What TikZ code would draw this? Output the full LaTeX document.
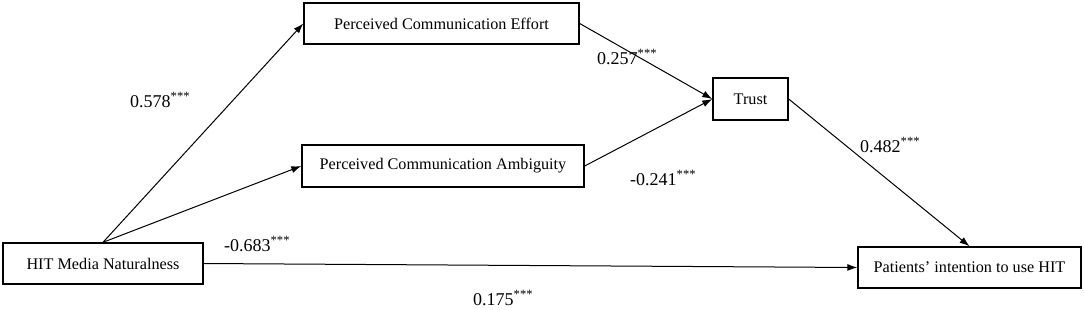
\documentclass[tikz,border=0pt]{standalone}
\usepackage{fontspec}
\setmainfont{Liberation Serif}
\usetikzlibrary{positioning, arrows.meta}

\begin{document}
\begin{tikzpicture}[x=1pt, y=-1pt,
    box/.style={draw, line width=1.4pt, inner sep=0pt, font=\fontsize{16.2}{18}\selectfont},
    path/.style={-{Latex[length=10pt,width=7pt]}, line width=1pt},
    coef/.style={anchor=base west, inner sep=0pt, font=\fontsize{18}{20}\selectfont}]

        \useasboundingbox (0,0) rectangle (1084,309);

        % Boxes
        \node[box, minimum width=200pt, minimum height=41pt] (hit) at (103,263.5) {HIT Media Naturalness};
        \node[box, minimum width=275pt, minimum height=41pt] (effort) at (441.5,23.5) {Perceived Communication Effort};
        \node[box, minimum width=282pt, minimum height=42pt] (ambig) at (443,166) {Perceived Communication Ambiguity};
        \node[box, minimum width=75pt, minimum height=42pt] (trust) at (750.5,99) {Trust};
        \node[box, minimum width=223pt, minimum height=41pt] (intent) at (969.5,267.5) {Patients’ intention to use HIT};

        % Paths
        \draw[path] (hit.north) -- (effort.west);
        \draw[path] (hit.north) -- (ambig.west);
        \draw[path] (effort.east) -- (trust.west);
        \draw[path] (ambig.east) -- (trust.west);
        \draw[path] (trust.east) -- (intent.north);
        \draw[path] (hit.east) -- (intent.west);

        % Coefficients
        \node[coef] (cHitEffort) at (130,107) {0.578\textsuperscript{***}};
        \node[coef] (cHitAmbig) at (224,251) {-0.683\textsuperscript{***}};
        \node[coef] (cEffortTrust) at (597,64) {0.257\textsuperscript{***}};
        \node[coef] (cAmbigTrust) at (630,185) {-0.241\textsuperscript{***}};
        \node[coef] (cTrustIntent) at (860,152) {0.482\textsuperscript{***}};
        \node[coef] (cHitIntent) at (473,305) {0.175\textsuperscript{***}};

\end{tikzpicture}
\end{document}
